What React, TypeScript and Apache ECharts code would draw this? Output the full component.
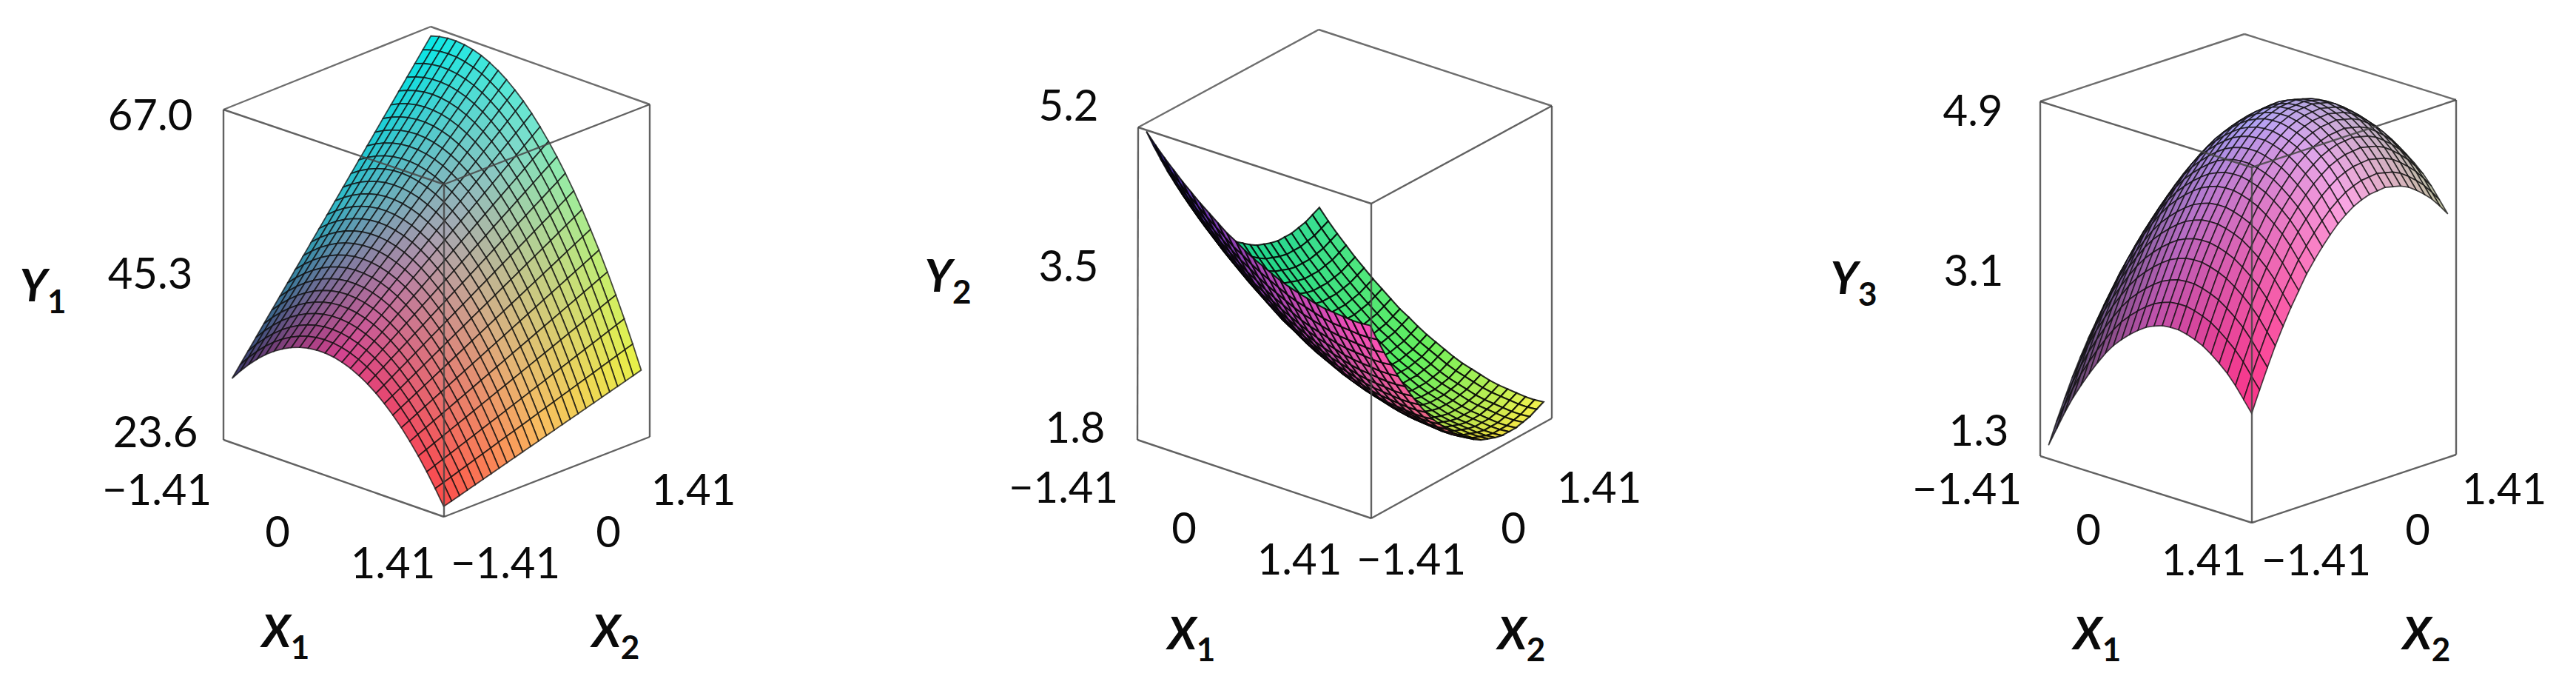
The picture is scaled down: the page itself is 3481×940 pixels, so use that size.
import React, { useEffect, useRef } from "react";
import * as echarts from "echarts";

const x1Grid: number[] = [-1.41, -1.297, -1.184, -1.072, -0.959, -0.846, -0.733, -0.62, -0.508, -0.395, -0.282, -0.169, -0.056, 0.056, 0.169, 0.282, 0.395, 0.508, 0.62, 0.733, 0.846, 0.959, 1.072, 1.184, 1.297, 1.41];
const x2Grid: number[] = [-1.41, -1.297, -1.184, -1.072, -0.959, -0.846, -0.733, -0.62, -0.508, -0.395, -0.282, -0.169, -0.056, 0.056, 0.169, 0.282, 0.395, 0.508, 0.62, 0.733, 0.846, 0.959, 1.072, 1.184, 1.297, 1.41];

// Estimated surface heights: one row per x1Grid value, one column per x2Grid value.
const y1: number[][] = [
[31.08,32.52,33.96,35.40,36.84,38.28,39.72,41.16,42.60,44.04,45.48,46.92,48.36,49.80,51.24,52.68,54.12,55.56,57.00,58.44,59.88,61.32,62.76,64.20,65.64,67.08],
[32.52,33.91,35.31,36.70,38.10,39.49,40.89,42.28,43.68,45.07,46.47,47.86,49.26,50.65,52.05,53.45,54.84,56.24,57.63,59.03,60.42,61.82,63.21,64.61,66.00,67.40],
[33.81,35.16,36.51,37.86,39.21,40.56,41.91,43.26,44.62,45.97,47.32,48.67,50.02,51.37,52.72,54.07,55.42,56.77,58.12,59.47,60.82,62.17,63.53,64.88,66.23,67.58],
[34.96,36.27,37.57,38.88,40.18,41.49,42.80,44.10,45.41,46.71,48.02,49.33,50.63,51.94,53.24,54.55,55.86,57.16,58.47,59.77,61.08,62.39,63.69,65.00,66.30,67.61],
[35.97,37.23,38.49,39.75,41.01,42.27,43.53,44.80,46.06,47.32,48.58,49.84,51.10,52.37,53.63,54.89,56.15,57.41,58.67,59.93,61.19,62.46,63.72,64.98,66.24,67.50],
[36.83,38.04,39.26,40.48,41.69,42.91,44.13,45.34,46.56,47.78,48.99,50.21,51.43,52.65,53.86,55.08,56.30,57.51,58.73,59.95,61.16,62.38,63.60,64.81,66.03,67.25],
[37.54,38.72,39.89,41.06,42.23,43.40,44.58,45.75,46.92,48.09,49.27,50.44,51.61,52.78,53.95,55.13,56.30,57.47,58.64,59.82,60.99,62.16,63.33,64.50,65.68,66.85],
[38.12,39.24,40.37,41.50,42.63,43.75,44.88,46.01,47.14,48.26,49.39,50.52,51.65,52.77,53.90,55.03,56.16,57.28,58.41,59.54,60.67,61.79,62.92,64.05,65.18,66.30],
[38.54,39.63,40.71,41.79,42.88,43.96,45.04,46.12,47.21,48.29,49.37,50.46,51.54,52.62,53.70,54.79,55.87,56.95,58.04,59.12,60.20,61.28,62.37,63.45,64.53,65.62],
[38.83,39.86,40.90,41.94,42.98,44.02,45.05,46.09,47.13,48.17,49.21,50.24,51.28,52.32,53.36,54.40,55.44,56.47,57.51,58.55,59.59,60.63,61.67,62.70,63.74,64.78],
[38.96,39.96,40.95,41.94,42.94,43.93,44.93,45.92,46.91,47.91,48.90,49.89,50.89,51.88,52.87,53.87,54.86,55.86,56.85,57.84,58.84,59.83,60.82,61.82,62.81,63.80],
[38.96,39.91,40.85,41.80,42.75,43.70,44.65,45.60,46.55,47.50,48.45,49.40,50.34,51.29,52.24,53.19,54.14,55.09,56.04,56.99,57.94,58.89,59.83,60.78,61.73,62.68],
[38.81,39.71,40.61,41.52,42.42,43.33,44.23,45.14,46.04,46.94,47.85,48.75,49.66,50.56,51.47,52.37,53.27,54.18,55.08,55.99,56.89,57.80,58.70,59.60,60.51,61.41],
[38.51,39.37,40.23,41.09,41.95,42.81,43.67,44.53,45.39,46.25,47.11,47.97,48.83,49.69,50.55,51.41,52.26,53.12,53.98,54.84,55.70,56.56,57.42,58.28,59.14,60.00],
[38.07,38.88,39.70,40.51,41.33,42.14,42.96,43.77,44.59,45.40,46.22,47.03,47.85,48.66,49.48,50.29,51.11,51.92,52.74,53.55,54.37,55.18,56.00,56.81,57.63,58.44],
[37.48,38.25,39.02,39.79,40.56,41.34,42.11,42.88,43.65,44.42,45.19,45.96,46.73,47.50,48.27,49.04,49.81,50.58,51.35,52.12,52.89,53.66,54.43,55.20,55.97,56.74],
[36.75,37.48,38.20,38.93,39.66,40.38,41.11,41.83,42.56,43.29,44.01,44.74,45.46,46.19,46.92,47.64,48.37,49.09,49.82,50.54,51.27,52.00,52.72,53.45,54.17,54.90],
[35.88,36.56,37.24,37.92,38.60,39.29,39.97,40.65,41.33,42.01,42.69,43.37,44.05,44.73,45.41,46.10,46.78,47.46,48.14,48.82,49.50,50.18,50.86,51.54,52.23,52.91],
[34.86,35.50,36.13,36.77,37.40,38.04,38.68,39.31,39.95,40.59,41.22,41.86,42.50,43.13,43.77,44.41,45.04,45.68,46.32,46.95,47.59,48.22,48.86,49.50,50.13,50.77],
[33.70,34.29,34.88,35.47,36.06,36.65,37.25,37.84,38.43,39.02,39.61,40.21,40.80,41.39,41.98,42.57,43.16,43.76,44.35,44.94,45.53,46.12,46.72,47.31,47.90,48.49],
[32.39,32.93,33.48,34.03,34.58,35.12,35.67,36.22,36.76,37.31,37.86,38.41,38.95,39.50,40.05,40.60,41.14,41.69,42.24,42.78,43.33,43.88,44.43,44.97,45.52,46.07],
[30.93,31.44,31.94,32.44,32.94,33.45,33.95,34.45,34.95,35.46,35.96,36.46,36.96,37.47,37.97,38.47,38.98,39.48,39.98,40.48,40.99,41.49,41.99,42.49,43.00,43.50],
[29.34,29.79,30.25,30.71,31.17,31.63,32.08,32.54,33.00,33.46,33.92,34.37,34.83,35.29,35.75,36.21,36.66,37.12,37.58,38.04,38.49,38.95,39.41,39.87,40.33,40.78],
[27.59,28.01,28.42,28.83,29.25,29.66,30.07,30.49,30.90,31.31,31.73,32.14,32.55,32.97,33.38,33.79,34.21,34.62,35.03,35.45,35.86,36.27,36.69,37.10,37.51,37.93],
[25.71,26.08,26.44,26.81,27.18,27.55,27.92,28.29,28.66,29.03,29.39,29.76,30.13,30.50,30.87,31.24,31.61,31.97,32.34,32.71,33.08,33.45,33.82,34.19,34.56,34.92],
[23.68,24.00,24.32,24.65,24.97,25.30,25.62,25.94,26.27,26.59,26.92,27.24,27.56,27.89,28.21,28.54,28.86,29.18,29.51,29.83,30.16,30.48,30.80,31.13,31.45,31.78],
];

const y2: number[][] = [
[5.22,5.02,4.83,4.65,4.48,4.32,4.17,4.03,3.90,3.78,3.68,3.58,3.49,3.41,3.35,3.29,3.24,3.21,3.18,3.16,3.16,3.16,3.18,3.20,3.24,3.28],
[5.10,4.90,4.71,4.53,4.36,4.20,4.05,3.91,3.78,3.66,3.56,3.46,3.37,3.29,3.23,3.17,3.12,3.09,3.06,3.04,3.04,3.04,3.06,3.08,3.12,3.16],
[4.99,4.79,4.60,4.42,4.25,4.09,3.94,3.80,3.67,3.55,3.45,3.35,3.26,3.18,3.12,3.06,3.01,2.98,2.95,2.93,2.93,2.93,2.95,2.97,3.01,3.05],
[4.89,4.69,4.50,4.32,4.15,3.99,3.84,3.70,3.57,3.45,3.35,3.25,3.16,3.08,3.02,2.96,2.91,2.88,2.85,2.83,2.83,2.83,2.85,2.87,2.91,2.95],
[4.79,4.59,4.40,4.22,4.05,3.89,3.74,3.60,3.47,3.35,3.25,3.15,3.06,2.98,2.92,2.86,2.81,2.78,2.75,2.73,2.73,2.73,2.75,2.77,2.81,2.85],
[4.70,4.50,4.31,4.13,3.96,3.80,3.65,3.51,3.38,3.26,3.16,3.06,2.97,2.89,2.83,2.77,2.72,2.69,2.66,2.64,2.64,2.64,2.66,2.68,2.72,2.76],
[4.61,4.41,4.22,4.04,3.87,3.71,3.56,3.42,3.29,3.17,3.07,2.97,2.88,2.80,2.74,2.68,2.63,2.60,2.57,2.55,2.55,2.55,2.57,2.59,2.63,2.67],
[4.53,4.33,4.14,3.96,3.79,3.63,3.48,3.34,3.21,3.09,2.99,2.89,2.80,2.72,2.66,2.60,2.55,2.52,2.49,2.47,2.47,2.47,2.49,2.51,2.55,2.59],
[4.45,4.25,4.06,3.88,3.71,3.55,3.40,3.26,3.13,3.01,2.91,2.81,2.72,2.64,2.58,2.52,2.47,2.44,2.41,2.39,2.39,2.39,2.41,2.43,2.47,2.51],
[4.37,4.17,3.98,3.80,3.63,3.47,3.32,3.18,3.05,2.93,2.83,2.73,2.64,2.56,2.50,2.44,2.39,2.36,2.33,2.31,2.31,2.31,2.33,2.35,2.39,2.43],
[4.31,4.11,3.92,3.74,3.57,3.41,3.26,3.12,2.99,2.87,2.77,2.67,2.58,2.50,2.44,2.38,2.33,2.30,2.27,2.25,2.25,2.25,2.27,2.29,2.33,2.37],
[4.24,4.04,3.85,3.67,3.50,3.34,3.19,3.05,2.92,2.80,2.70,2.60,2.51,2.43,2.37,2.31,2.26,2.23,2.20,2.18,2.18,2.18,2.20,2.22,2.26,2.30],
[4.18,3.98,3.79,3.61,3.44,3.28,3.13,2.99,2.86,2.74,2.64,2.54,2.45,2.37,2.31,2.25,2.20,2.17,2.14,2.12,2.12,2.12,2.14,2.16,2.20,2.24],
[4.13,3.93,3.74,3.56,3.39,3.23,3.08,2.94,2.81,2.69,2.59,2.49,2.40,2.32,2.26,2.20,2.15,2.12,2.09,2.07,2.07,2.07,2.09,2.11,2.15,2.19],
[4.08,3.88,3.69,3.51,3.34,3.18,3.03,2.89,2.76,2.64,2.54,2.44,2.35,2.27,2.21,2.15,2.10,2.07,2.04,2.02,2.02,2.02,2.04,2.06,2.10,2.14],
[4.03,3.83,3.64,3.46,3.29,3.13,2.98,2.84,2.71,2.59,2.49,2.39,2.30,2.22,2.16,2.10,2.05,2.02,1.99,1.97,1.97,1.97,1.99,2.01,2.05,2.09],
[3.99,3.79,3.60,3.42,3.25,3.09,2.94,2.80,2.67,2.55,2.45,2.35,2.26,2.18,2.12,2.06,2.01,1.98,1.95,1.93,1.93,1.93,1.95,1.97,2.01,2.05],
[3.96,3.76,3.57,3.39,3.22,3.06,2.91,2.77,2.64,2.52,2.42,2.32,2.23,2.15,2.09,2.03,1.98,1.95,1.92,1.90,1.90,1.90,1.92,1.94,1.98,2.02],
[3.93,3.73,3.54,3.36,3.19,3.03,2.88,2.74,2.61,2.49,2.39,2.29,2.20,2.12,2.06,2.00,1.95,1.92,1.89,1.87,1.87,1.87,1.89,1.91,1.95,1.99],
[3.90,3.70,3.51,3.33,3.16,3.00,2.85,2.71,2.58,2.46,2.36,2.26,2.17,2.09,2.03,1.97,1.92,1.89,1.86,1.84,1.84,1.84,1.86,1.88,1.92,1.96],
[3.88,3.68,3.49,3.31,3.14,2.98,2.83,2.69,2.56,2.44,2.34,2.24,2.15,2.07,2.01,1.95,1.90,1.87,1.84,1.82,1.82,1.82,1.84,1.86,1.90,1.94],
[3.87,3.67,3.48,3.30,3.13,2.97,2.82,2.68,2.55,2.43,2.33,2.23,2.14,2.06,2.00,1.94,1.89,1.86,1.83,1.81,1.81,1.81,1.83,1.85,1.89,1.93],
[3.86,3.66,3.47,3.29,3.12,2.96,2.81,2.67,2.54,2.42,2.32,2.22,2.13,2.05,1.99,1.93,1.88,1.85,1.82,1.80,1.80,1.80,1.82,1.84,1.88,1.92],
[3.85,3.65,3.46,3.28,3.11,2.95,2.80,2.66,2.53,2.41,2.31,2.21,2.12,2.04,1.98,1.92,1.87,1.84,1.81,1.79,1.79,1.79,1.81,1.83,1.87,1.91],
[3.85,3.65,3.46,3.28,3.11,2.95,2.80,2.66,2.53,2.41,2.31,2.21,2.12,2.04,1.98,1.92,1.87,1.84,1.81,1.79,1.79,1.79,1.81,1.83,1.87,1.91],
[3.86,3.66,3.47,3.29,3.12,2.96,2.81,2.67,2.54,2.42,2.32,2.22,2.13,2.05,1.99,1.93,1.88,1.85,1.82,1.80,1.80,1.80,1.82,1.84,1.88,1.92],
];

const y3: number[][] = [
[1.34,1.56,1.77,1.97,2.15,2.32,2.47,2.62,2.74,2.85,2.95,3.04,3.11,3.17,3.21,3.24,3.25,3.26,3.24,3.22,3.18,3.12,3.05,2.97,2.87,2.76],
[1.54,1.76,1.97,2.17,2.35,2.52,2.67,2.82,2.94,3.05,3.15,3.24,3.31,3.37,3.41,3.44,3.45,3.46,3.44,3.42,3.38,3.32,3.25,3.17,3.07,2.96],
[1.74,1.96,2.17,2.37,2.55,2.72,2.87,3.02,3.14,3.25,3.35,3.44,3.51,3.57,3.61,3.64,3.65,3.66,3.64,3.62,3.58,3.52,3.45,3.37,3.27,3.16],
[1.92,2.14,2.35,2.55,2.73,2.90,3.05,3.20,3.32,3.43,3.53,3.62,3.69,3.75,3.79,3.82,3.83,3.84,3.82,3.80,3.76,3.70,3.63,3.55,3.45,3.34],
[2.08,2.30,2.51,2.71,2.89,3.06,3.21,3.36,3.48,3.59,3.69,3.78,3.85,3.91,3.95,3.98,3.99,4.00,3.98,3.96,3.92,3.86,3.79,3.71,3.61,3.50],
[2.23,2.45,2.66,2.86,3.04,3.21,3.36,3.51,3.63,3.74,3.84,3.93,4.00,4.06,4.10,4.13,4.14,4.15,4.13,4.11,4.07,4.01,3.94,3.86,3.76,3.65],
[2.37,2.59,2.80,3.00,3.18,3.35,3.50,3.65,3.77,3.88,3.98,4.07,4.14,4.20,4.24,4.27,4.28,4.29,4.27,4.25,4.21,4.15,4.08,4.00,3.90,3.79],
[2.50,2.72,2.93,3.13,3.31,3.48,3.63,3.78,3.90,4.01,4.11,4.20,4.27,4.33,4.37,4.40,4.41,4.42,4.40,4.38,4.34,4.28,4.21,4.13,4.03,3.92],
[2.61,2.83,3.04,3.24,3.42,3.59,3.74,3.89,4.01,4.12,4.22,4.31,4.38,4.44,4.48,4.51,4.52,4.53,4.51,4.49,4.45,4.39,4.32,4.24,4.14,4.03],
[2.70,2.92,3.13,3.33,3.51,3.68,3.83,3.98,4.10,4.21,4.31,4.40,4.47,4.53,4.57,4.60,4.61,4.62,4.60,4.58,4.54,4.48,4.41,4.33,4.23,4.12],
[2.78,3.00,3.21,3.41,3.59,3.76,3.91,4.06,4.18,4.29,4.39,4.48,4.55,4.61,4.65,4.68,4.69,4.70,4.68,4.66,4.62,4.56,4.49,4.41,4.31,4.20],
[2.85,3.07,3.28,3.48,3.66,3.83,3.98,4.13,4.25,4.36,4.46,4.55,4.62,4.68,4.72,4.75,4.76,4.77,4.75,4.73,4.69,4.63,4.56,4.48,4.38,4.27],
[2.91,3.13,3.34,3.54,3.72,3.89,4.04,4.19,4.31,4.42,4.52,4.61,4.68,4.74,4.78,4.81,4.82,4.83,4.81,4.79,4.75,4.69,4.62,4.54,4.44,4.33],
[2.95,3.17,3.38,3.58,3.76,3.93,4.08,4.23,4.35,4.46,4.56,4.65,4.72,4.78,4.82,4.85,4.86,4.87,4.85,4.83,4.79,4.73,4.66,4.58,4.48,4.37],
[2.98,3.20,3.41,3.61,3.79,3.96,4.11,4.26,4.38,4.49,4.59,4.68,4.75,4.81,4.85,4.88,4.89,4.90,4.88,4.86,4.82,4.76,4.69,4.61,4.51,4.40],
[2.99,3.21,3.42,3.62,3.80,3.97,4.12,4.27,4.39,4.50,4.60,4.69,4.76,4.82,4.86,4.89,4.90,4.91,4.89,4.87,4.83,4.77,4.70,4.62,4.52,4.41],
[2.99,3.21,3.42,3.62,3.80,3.97,4.12,4.27,4.39,4.50,4.60,4.69,4.76,4.82,4.86,4.89,4.90,4.91,4.89,4.87,4.83,4.77,4.70,4.62,4.52,4.41],
[2.97,3.19,3.40,3.60,3.78,3.95,4.10,4.25,4.37,4.48,4.58,4.67,4.74,4.80,4.84,4.87,4.88,4.89,4.87,4.85,4.81,4.75,4.68,4.60,4.50,4.39],
[2.94,3.16,3.37,3.57,3.75,3.92,4.07,4.22,4.34,4.45,4.55,4.64,4.71,4.77,4.81,4.84,4.85,4.86,4.84,4.82,4.78,4.72,4.65,4.57,4.47,4.36],
[2.90,3.12,3.33,3.53,3.71,3.88,4.03,4.18,4.30,4.41,4.51,4.60,4.67,4.73,4.77,4.80,4.81,4.82,4.80,4.78,4.74,4.68,4.61,4.53,4.43,4.32],
[2.84,3.06,3.27,3.47,3.65,3.82,3.97,4.12,4.24,4.35,4.45,4.54,4.61,4.67,4.71,4.74,4.75,4.76,4.74,4.72,4.68,4.62,4.55,4.47,4.37,4.26],
[2.77,2.99,3.20,3.40,3.58,3.75,3.90,4.05,4.17,4.28,4.38,4.47,4.54,4.60,4.64,4.67,4.68,4.69,4.67,4.65,4.61,4.55,4.48,4.40,4.30,4.19],
[2.69,2.91,3.12,3.32,3.50,3.67,3.82,3.97,4.09,4.20,4.30,4.39,4.46,4.52,4.56,4.59,4.60,4.61,4.59,4.57,4.53,4.47,4.40,4.32,4.22,4.11],
[2.59,2.81,3.02,3.22,3.40,3.57,3.72,3.87,3.99,4.10,4.20,4.29,4.36,4.42,4.46,4.49,4.50,4.51,4.49,4.47,4.43,4.37,4.30,4.22,4.12,4.01],
[2.47,2.69,2.90,3.10,3.28,3.45,3.60,3.75,3.87,3.98,4.08,4.17,4.24,4.30,4.34,4.37,4.38,4.39,4.37,4.35,4.31,4.25,4.18,4.10,4.00,3.89],
[2.35,2.57,2.78,2.98,3.16,3.33,3.48,3.63,3.75,3.86,3.96,4.05,4.12,4.18,4.22,4.25,4.26,4.27,4.25,4.23,4.19,4.13,4.06,3.98,3.88,3.77],
];

type P = [number, number];
const panels = [
  {
    z: y1, zMin: 23.6, zMax: 67,
    box: { BL: [302, 594], BF: [600, 698], BR: [878, 590], BB: [580, 486], TL: [302, 148], TF: [600, 249], TR: [878, 141], TB: [582, 36] },
    front: [
      [[55, 50, 100], [40, 185, 200], [0, 235, 235]],
      [[215, 60, 140], [170, 160, 175], [110, 235, 210]],
      [[255, 70, 70], [255, 190, 90], [240, 245, 60]],
    ],
    back: null as any, mesh: "rgba(15,15,15,0.75)", meshW: 1.8,
    labels: [["67.0", 203, 153], ["45.3", 203, 367], ["23.6", 210, 581], ["\u22121.41", 212, 659], ["0", 375, 716], ["1.41", 531, 758], ["\u22121.41", 683, 758], ["0", 822, 716], ["1.41", 937, 659]],
    names: [["X", "1", 386, 857], ["X", "2", 832, 857], ["Y", "1", 58, 390]],
  },
  {
    z: y2, zMin: 1.8, zMax: 5.2,
    box: { BL: [1537, 594], BF: [1853, 700], BR: [2097, 565], BB: [1781, 459], TL: [1538, 172], TF: [1853, 275], TR: [2097, 143], TB: [1782, 40] },
    front: [
      [[45, 110, 170], [20, 205, 140], [60, 225, 150]],
      [[35, 210, 130], [50, 232, 110], [110, 240, 90]],
      [[70, 230, 90], [250, 200, 45], [250, 245, 80]],
    ],
    back: [
      [[45, 40, 170], [45, 40, 170], [45, 40, 170]],
      [[175, 72, 185], [150, 70, 150], [100, 60, 120]],
      [[255, 75, 190], [240, 120, 110], [200, 90, 60]],
    ],
    mesh: "rgba(5,5,5,0.85)", meshW: 2.1,
    labels: [["5.2", 1444, 140], ["3.5", 1444, 357], ["1.8", 1453, 575], ["\u22121.41", 1437, 656], ["0", 1600, 711], ["1.41", 1756, 753], ["\u22121.41", 1907, 753], ["0", 2045, 711], ["1.41", 2161, 656]],
    names: [["X", "1", 1610, 860], ["X", "2", 2056, 860], ["Y", "2", 1281, 377]],
  },
  {
    z: y3, zMin: 1.3, zMax: 4.9,
    box: { BL: [2757, 616], BF: [3043, 706], BR: [3319, 614], BB: [3033, 524], TL: [2757, 137], TF: [3043, 226], TR: [3319, 135], TB: [3033, 46] },
    front: [
      [[70, 70, 90], [110, 100, 170], [170, 170, 240]],
      [[190, 75, 165], [172, 162, 245], [165, 170, 205]],
      [[255, 45, 130], [255, 165, 225], [185, 195, 150]],
    ],
    back: null as any, mesh: "rgba(15,15,15,0.75)", meshW: 1.7,
    labels: [["4.9", 2666, 147], ["3.1", 2667, 363], ["1.3", 2674, 579], ["\u22121.41", 2658, 658], ["0", 2822, 713], ["1.41", 2978, 754], ["\u22121.41", 3130, 754], ["0", 3267, 713], ["1.41", 3384, 658]],
    names: [["X", "1", 2834, 860], ["X", "2", 3279, 860], ["Y", "3", 2505, 380]],
  },
];

const lerp = (a: number, b: number, k: number) => a + (b - a) * k;
function project(box: any, u: number, v: number, w: number): P {
  const bi = (a: number[], b: number[], c: number[], d: number[], n: number) =>
    lerp(lerp(a[n], b[n], u), lerp(d[n], c[n], u), v);
  const f = (n: number) =>
    lerp(bi(box.BL, box.BF, box.BR, box.BB, n), bi(box.TL, box.TF, box.TR, box.TB, n), w);
  return [f(0), f(1)];
}
function tableColor(tb: number[][][], u: number, v: number) {
  const a = Math.min(1.999, u * 2), b = Math.min(1.999, v * 2);
  const ia = Math.floor(a), ib = Math.floor(b), fa = a - ia, fb = b - ib;
  const c = [0, 1, 2].map((n) =>
    Math.round(lerp(lerp(tb[ia][ib][n], tb[ia + 1][ib][n], fa), lerp(tb[ia][ib + 1][n], tb[ia + 1][ib + 1][n], fa), fb))
  );
  return `rgb(${c[0]},${c[1]},${c[2]})`;
}
const toU = (x: number) => 0.5 + (0.48 * x) / 1.41;
const toW = (p: any, y: number) => 0.02 + (0.96 * (y - p.zMin)) / (p.zMax - p.zMin);

function surfaceSeries(p: any) {
  const data: number[][] = [];
  for (let i = 0; i < x1Grid.length - 1; i++)
    for (let j = x2Grid.length - 2; j >= 0; j--)
      data.push([x1Grid[i], x2Grid[j], x1Grid[i + 1], x2Grid[j + 1], p.z[i][j], p.z[i + 1][j], p.z[i + 1][j + 1], p.z[i][j + 1]]);
  return {
    type: "custom", coordinateSystem: "cartesian2d", clip: false, silent: true, data,
    encode: { x: 0, y: 1 },
    renderItem: (_: any, api: any) => {
      const u0 = toU(api.value(0)), v0 = toU(api.value(1)), u1 = toU(api.value(2)), v1 = toU(api.value(3));
      const q: P[] = [
        project(p.box, u0, v0, toW(p, api.value(4))),
        project(p.box, u1, v0, toW(p, api.value(5))),
        project(p.box, u1, v1, toW(p, api.value(6))),
        project(p.box, u0, v1, toW(p, api.value(7))),
      ];
      let area = 0;
      for (let n = 0; n < 4; n++) { const m = (n + 1) % 4; area += q[n][0] * q[m][1] - q[m][0] * q[n][1]; }
      const isBack = area > 0 && p.back;
      const fill = tableColor(isBack ? p.back : p.front, (u0 + u1) / 2, (v0 + v1) / 2);
      return {
        type: "polygon",
        shape: { points: q.map((c) => api.coord(c)) },
        style: { fill, stroke: p.mesh, lineWidth: p.meshW },
      };
    },
  };
}
function edgeSeries(p: any, names: string[][], color: string) {
  return {
    type: "custom", coordinateSystem: "cartesian2d", clip: false, silent: true,
    data: names.map((_, n) => [n, 0]), encode: { x: 0, y: 1 },
    renderItem: (_: any, api: any) => {
      const [a, b] = names[api.value(0)];
      const A = api.coord(p.box[a]), B = api.coord(p.box[b]);
      return {
        type: "line",
        shape: { x1: A[0], y1: A[1], x2: B[0], y2: B[1] },
        style: { stroke: color, lineWidth: 2.4 },
      };
    },
  };
}

const FONT = "Lato";
export default function App() {
  const ref = useRef<HTMLDivElement>(null);
  useEffect(() => {
    document.body.style.margin = "0";
    const chart = echarts.init(ref.current!, null, { renderer: "svg" });
    const series: any[] = [];
    panels.forEach((p) => {
      series.push(edgeSeries(p, [["TL", "TB"], ["TB", "TR"]], "#6e6e6e"));
      series.push(surfaceSeries(p));
      series.push(edgeSeries(p, [["TL", "TF"], ["TF", "TR"], ["TL", "BL"], ["TF", "BF"], ["TR", "BR"], ["BL", "BF"], ["BF", "BR"]], "rgba(70,70,70,0.85)"));
    });
    const graphic: any[] = [];
    panels.forEach((p) => {
      p.labels.forEach((l: any) =>
        graphic.push({ type: "text", x: l[1], y: l[2], z: 100, style: { text: l[0], fontFamily: FONT, fontSize: 58, fill: "#0a0a0a", align: "center", verticalAlign: "middle" } })
      );
      p.names.forEach((n: any) =>
        graphic.push({
          type: "text", x: n[2], y: n[3], z: 100,
          style: {
            text: `{a|${n[0]}}{b|${n[1]}}`, align: "center", verticalAlign: "middle",
            rich: {
              a: { fontFamily: FONT, fontSize: 62, fontWeight: "bold", fontStyle: "italic", fill: "#0a0a0a", lineHeight: 76, verticalAlign: "top" },
              b: { fontFamily: FONT, fontSize: 44, fontWeight: "bold", fill: "#0a0a0a", lineHeight: 76, verticalAlign: "bottom" },
            },
          },
        })
      );
    });
    chart.setOption({
      animation: false,
      backgroundColor: "#fff",
      grid: { left: 0, right: 0, top: 0, bottom: 0 },
      xAxis: { type: "value", min: 0, max: 3481, show: false },
      yAxis: { type: "value", min: 0, max: 940, inverse: true, show: false },
      series,
      graphic,
    });
    return () => chart.dispose();
  }, []);
  return <div ref={ref} style={{ position: "fixed", left: 0, top: 0, width: 3481, height: 940 }} />;
}
